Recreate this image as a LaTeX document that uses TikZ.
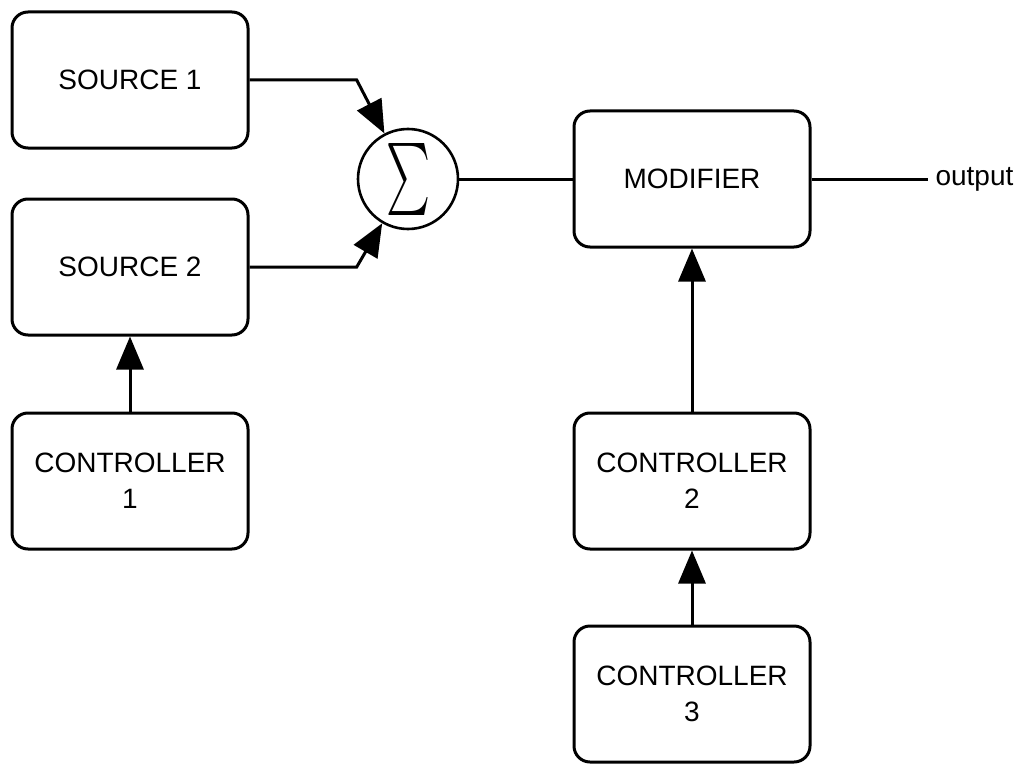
\documentclass[tikz,border=0pt]{standalone}
\usepackage{fontspec}
\setmainfont{Liberation Sans}
\usetikzlibrary{arrows.meta}

\begin{document}
\begin{tikzpicture}[x=1pt,y=-1pt,
  every path/.style={line width=3pt},
  block/.style={draw, line width=3pt, rounded corners=16pt,
    minimum width=236pt, minimum height=136pt, inner sep=0pt,
    align=center, font=\fontsize{28}{36}\selectfont},
  summer/.style={draw, circle, line width=2.6pt, minimum size=100pt, inner sep=0pt},
  flow/.style={-{Triangle[length=33pt,width=27pt]}, line width=3pt}
]
\useasboundingbox (0,0) rectangle (1019,765);

% sources and their controller
\node[block] (s1) at (130,80)  {SOURCE 1};
\node[block] (s2) at (130,267) {SOURCE 2};
\node[block] (c1) at (130,481) {CONTROLLER\\1};

% summing junction
\node[summer] (sum) at (408,179) {\resizebox{44pt}{54pt}{$\sum$}};

% modifier chain
\node[block] (mod) at (692,179) {MODIFIER};
\node[block] (c2)  at (692,481) {CONTROLLER\\2};
\node[block] (c3)  at (692,694) {CONTROLLER\\3};

\node[anchor=west, inner xsep=6pt, inner ysep=0pt,
      font=\fontsize{28}{36}\selectfont] (out) at (928,179) {output};

% connections
\draw[flow] (s1.east) -- (s1.east -| sum.west) -- (sum);
\draw[flow] (s2.east) -- (s2.east -| sum.west) -- (sum);
\draw (sum) -- (mod);
\draw (mod) -- (out.west);
\draw[flow] (c1) -- (s2);
\draw[flow] (c2) -- (mod);
\draw[flow] (c3) -- (c2);
\end{tikzpicture}
\end{document}
